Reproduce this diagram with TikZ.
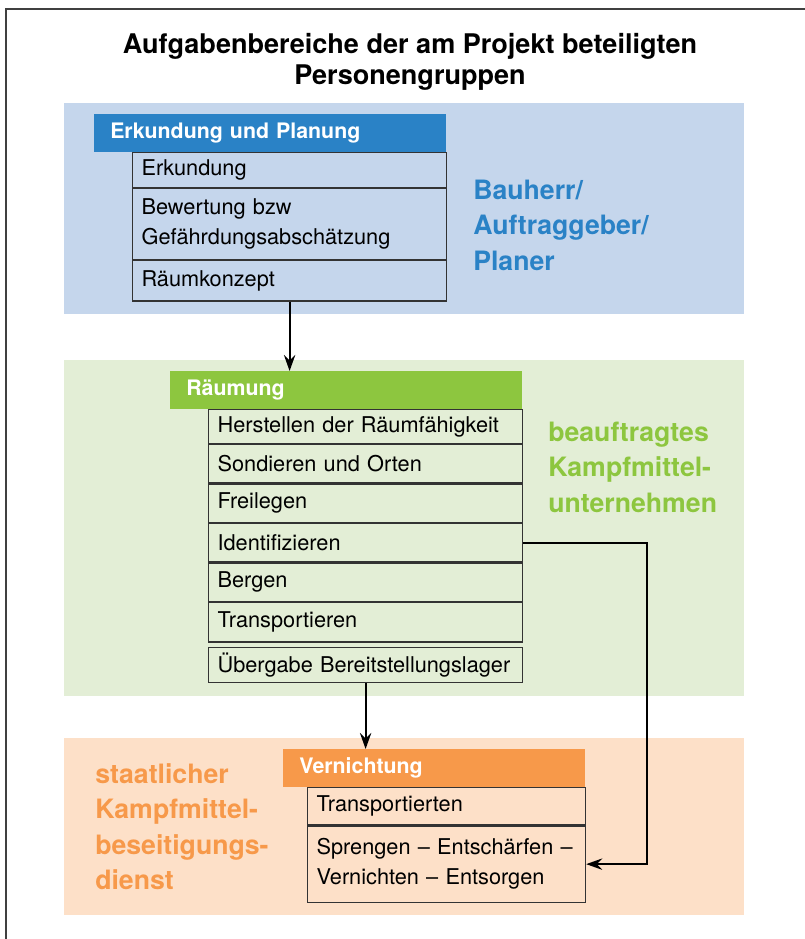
\documentclass[tikz,border=0pt]{standalone}
\usepackage{fontspec}
\setmainfont{TeX Gyre Heros}
\usetikzlibrary{positioning,arrows.meta}
\definecolor{erkblue}{HTML}{2A82C6}
\definecolor{erkband}{HTML}{C5D6EC}
\definecolor{raeumgreen}{HTML}{8DC63F}
\definecolor{raeumband}{HTML}{E3EED6}
\definecolor{vernorange}{HTML}{F7994A}
\definecolor{vernband}{HTML}{FDE0C8}

\begin{document}
\begin{tikzpicture}[
        x=0.75pt,
        y=-0.75pt,
        head/.style={
            rectangle,
            anchor=north west,
            text=white,
            font=\bfseries\fontsize{16}{19}\selectfont,
            inner xsep=12pt,
            inner ysep=0pt,
            text width=240pt,
            minimum height=28.5pt,
            align=left
        },
        task/.style={
            rectangle,
            draw=black!80,
            line width=0.9pt,
            inner xsep=6.75pt,
            inner ysep=0pt,
            text width=222pt,
            align=left,
            font=\fontsize{16.3}{22.5}\selectfont
        },
        group/.style={
            anchor=west,
            inner sep=0pt,
            align=left,
            font=\bfseries\fontsize{20}{26.6}\selectfont
        },
        line/.style={
            draw,
            line width=1.5pt,
            -{Stealth[length=12pt,width=8.5pt,inset=4pt]}
        },
      ]
        \useasboundingbox (0,0) rectangle (805,939);
        \draw [line width=1pt,black!75] (6,939) -- (6,9) -- (805,9);
        \node [font=\bfseries\fontsize{20.3}{23.25}\selectfont,align=center] (title) at (410,61.5) {Aufgabenbereiche der am Projekt beteiligten\\Personengruppen};
        % bands
        \fill [erkband] (64,103) rectangle (744,314);
        \fill [raeumband] (64,360) rectangle (744,696);
        \fill [vernband] (64,738) rectangle (744,915);
        % Erkundung und Planung
        \node [head,fill=erkblue] (erk) at (94,114) {Erkundung und Planung};
        \node [task,anchor=north west,minimum height=26pt] (erk1) at (132,152) {Erkundung};
        \node [task,minimum height=53pt,below=0pt of erk1] (erk2) {Bewertung bzw\\Gefährdungsabschätzung};
        \node [task,minimum height=30.5pt,below=0pt of erk2] (erk3) {Räumkonzept};
        \node [group,text=erkblue] (bauherr) at (473,225) {Bauherr/\\Auftraggeber/\\Planer};
        % Raeumung
        \node [head,fill=raeumgreen] (raeum) at (170,371) {Räumung};
        \node [task,anchor=north west,minimum height=25.5pt] (raeum1) at (208,409) {Herstellen der Räumfähigkeit};
        \node [task,minimum height=28.7pt,below=0pt of raeum1] (raeum2) {Sondieren und Orten};
        \node [task,minimum height=28.7pt,below=0pt of raeum2] (raeum3) {Freilegen};
        \node [task,minimum height=28.7pt,below=0pt of raeum3] (ident) {Identifizieren};
        \node [task,minimum height=28.7pt,below=0pt of ident] (raeum5) {Bergen};
        \node [task,minimum height=29.5pt,below=0pt of raeum5] (raeum6) {Transportieren};
        \node [task,minimum height=26.5pt,below=3pt of raeum6] (uebergabe) {Übergabe Bereitstellungslager};
        \node [group,text=raeumgreen] (firma) at (548,467) {beauftragtes\\Kampfmittel-\\unternehmen};
        % Vernichtung
        \node [head,fill=vernorange,text width=202.5pt] (vern) at (283,749) {Vernichtung};
        \node [task,anchor=north west,text width=195pt,minimum height=28pt] (vern1) at (307,787) {Transportierten};
        \node [task,text width=195pt,minimum height=57pt,below=0pt of vern1] (spreng) {Sprengen – Entschärfen –\\Vernichten – Entsorgen};
        \node [group,text=vernorange] (dienst) at (95,826.5) {staatlicher\\Kampfmittel-\\beseitigungs-\\dienst};
        % arrows
        \coordinate (turn) at (647,700);
        \path [line] (erk3.south) -- (erk3.south |- raeum.north);
        \path [line] (uebergabe.south) -- (uebergabe.south |- vern.north);
        \path [line] (ident.east) -| (turn) |- (spreng.east);
      \end{tikzpicture}
\end{document}
